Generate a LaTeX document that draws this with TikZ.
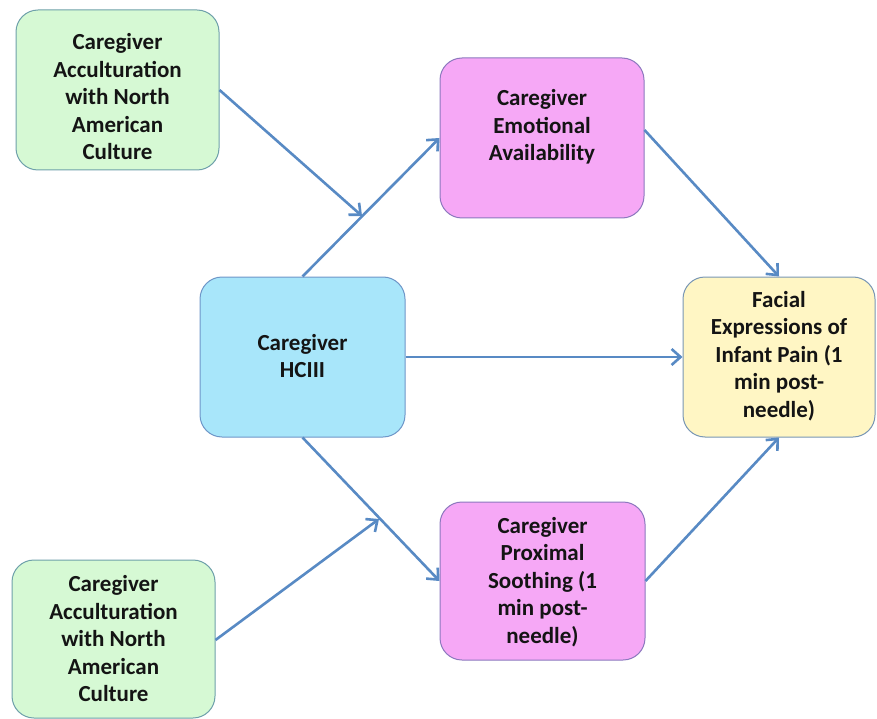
\documentclass[tikz,border=0pt]{standalone}
\usepackage{fontspec}
\setmainfont{Carlito}
\usetikzlibrary{arrows.meta}
\definecolor{gfill}{RGB}{214,249,212}
\definecolor{gdraw}{RGB}{110,160,170}
\definecolor{pfill}{RGB}{246,168,246}
\definecolor{pdraw}{RGB}{140,120,190}
\definecolor{yfill}{RGB}{255,246,196}
\definecolor{ydraw}{RGB}{120,150,180}
\definecolor{bfill}{RGB}{168,230,250}
\definecolor{bdraw}{RGB}{110,150,200}
\definecolor{arr}{RGB}{88,138,196}
\definecolor{txtc}{RGB}{20,20,20}
\tikzset{
  box/.style={rounded corners=22pt, line width=1pt, inner sep=0pt},
  txt/.style={align=center, font=\fontsize{23}{27.5}\selectfont\bfseries, text=txtc, inner sep=0pt},
  con/.style={draw=arr, line width=2.6pt, -{Straight Barb[length=9pt,width=16pt,line width=2.6pt]}},
}
\begin{document}
\begin{tikzpicture}[x=1pt,y=-1pt]
\useasboundingbox (0,0) rectangle (877,719);
% boxes
\node[box, draw=gdraw, fill=gfill, minimum width=203pt, minimum height=160pt] (g1) at (117.5,90) {};
\node[box, draw=gdraw, fill=gfill, minimum width=203pt, minimum height=158pt] (g2) at (113.5,639) {};
\node[box, draw=pdraw, fill=pfill, minimum width=204pt, minimum height=160pt] (emo) at (542,138) {};
\node[box, draw=pdraw, fill=pfill, minimum width=205pt, minimum height=158pt] (prox) at (542.5,581) {};
\node[box, draw=bdraw, fill=bfill, minimum width=205pt, minimum height=160pt] (hc) at (302.5,357) {};
\node[box, draw=ydraw, fill=yfill, minimum width=192pt, minimum height=160pt] (fac) at (779,357) {};
% texts
\node[txt] (t1) at (117.5,97) {Caregiver\\Acculturation\\with North\\American\\Culture};
\node[txt] (t2) at (113.5,639) {Caregiver\\Acculturation\\with North\\American\\Culture};
\node[txt] (t3) at (542,127) {Caregiver\\Emotional\\Availability};
\node[txt] (t4) at (542.5,582) {Caregiver\\Proximal\\Soothing (1\\min post-\\needle)};
\node[txt] (t5) at (302.5,356) {Caregiver\\HCIII};
\node[txt] (t6) at (779,356) {Facial\\Expressions of\\Infant Pain (1\\min post-\\needle)};
% junction points
\coordinate (j1) at (362,216);
\coordinate (j2) at (379,519);
% connectors
\draw[con] (hc.north) -- (emo.west);
\draw[con] (g1.east |- 0,90) -- (j1);
\draw[con] (emo.east |- 0,130) -- (fac.north);
\draw[con] (hc.east) -- (fac.west);
\draw[con] (hc.south) -- (prox.west);
\draw[con] (g2.east |- 0,640) -- (j2);
\draw[con] (prox.east) -- (fac.south);
\end{tikzpicture}
\end{document}
